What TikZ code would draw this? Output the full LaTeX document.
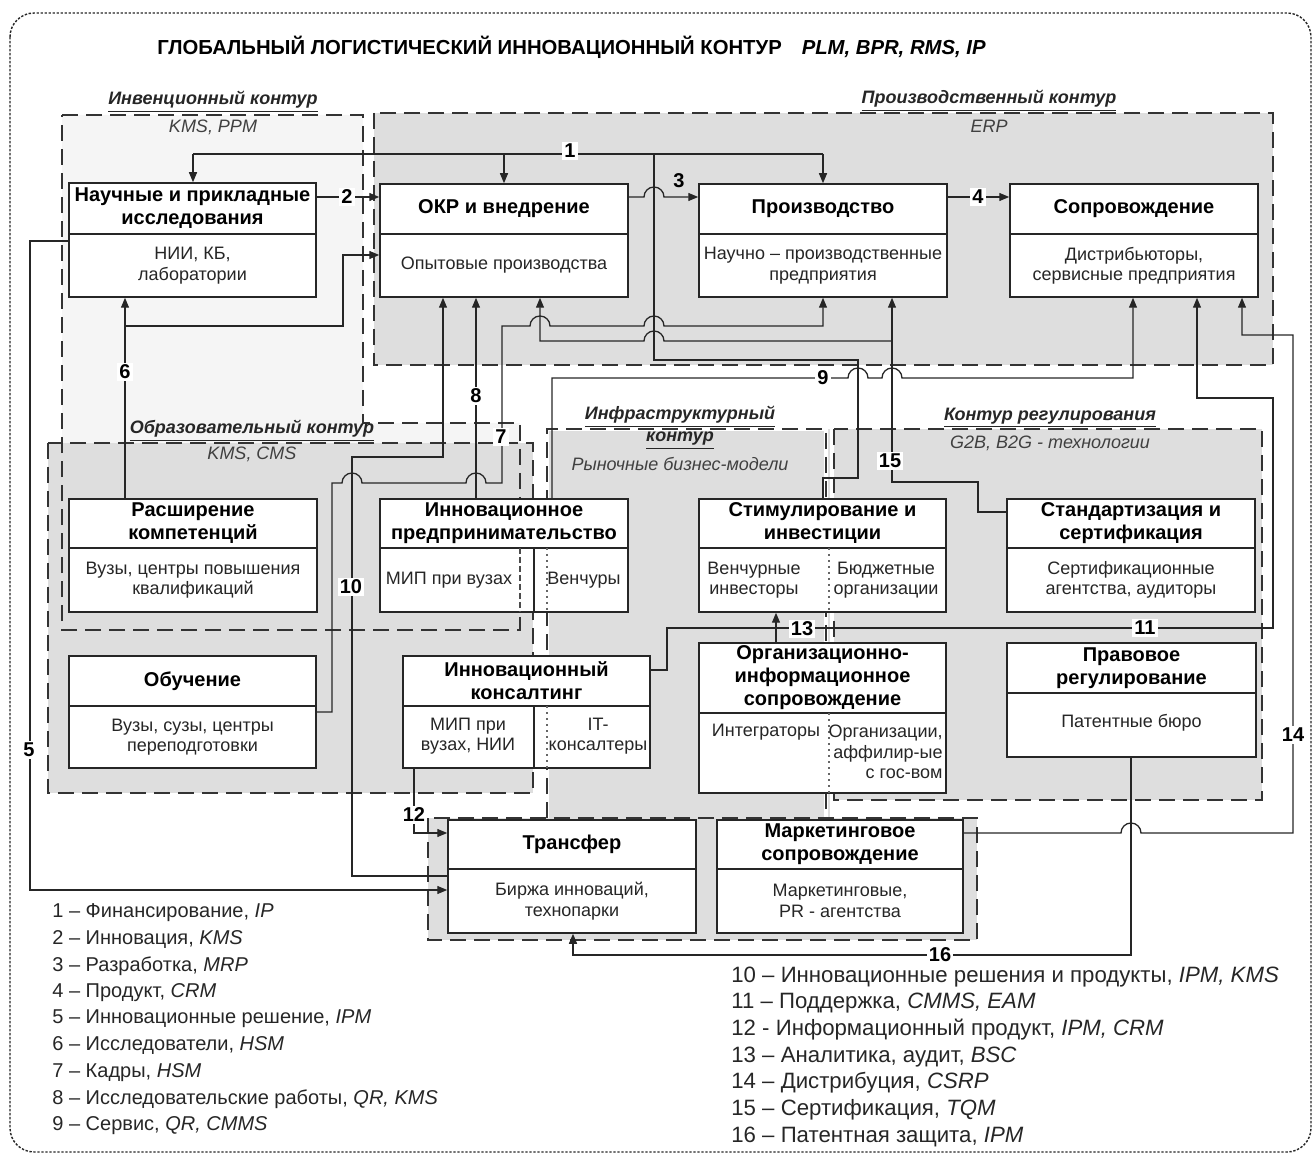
\documentclass[tikz,border=0pt]{standalone}
\usepackage{fontspec}
\setmainfont{Liberation Sans}
\usetikzlibrary{arrows.meta,fit}
\begin{document}
\begin{tikzpicture}[x=0.5pt,y=-0.5pt,
 cfill/.style={fill=black!13},
 ifill/.style={fill=black!4},
 cborder/.style={draw=black!80, line width=0.75pt, dash pattern=on 8pt off 4pt},
 infb/.style={cborder, preaction={draw=white, solid, line width=2.2pt}},
 outer/.style={draw=black!85, line width=0.7pt, dash pattern=on 1.2pt off 0.8pt},
 box/.style={draw=black!85, line width=0.75pt, fill=white, inner sep=0pt},
 divl/.style={draw=black!85, line width=0.75pt},
 ttl/.style={font=\bfseries\fontsize{10}{11.5}\selectfont, align=center, inner sep=0pt},
 bdy/.style={font=\fontsize{9}{10.2}\selectfont, align=center, text=black!85, inner sep=0pt},
 conn/.style={draw=black!85, line width=0.65pt},
 arr/.style={conn, -{Triangle[length=5pt,width=4pt]}},
 lbl/.style={font=\bfseries\fontsize{10}{12}\selectfont, fill=white, inner sep=1pt},
 ctitle/.style={font=\bfseries\itshape\fontsize{9}{11}\selectfont, align=center, inner sep=0pt, text=black!85},
 csub/.style={font=\itshape\fontsize{9}{11}\selectfont, text=black!75, inner sep=0pt},
 leg/.style={font=\fontsize{10}{12}\selectfont, anchor=west, inner sep=0pt, text=black!85},
 legr/.style={leg, font=\fontsize{11.1}{13}\selectfont},
 celldash/.style={draw=black!70, line width=0.6pt, dash pattern=on 3pt off 1.5pt},
 celldot/.style={draw=black!60, line width=0.6pt, dash pattern=on 1pt off 2pt}
]
\useasboundingbox (0,0) rectangle (1314,1155);

% outer border
\draw[outer, rounded corners=12pt] (10,13) rectangle (1311,1152);

% title
\node[anchor=west, inner sep=0pt, font=\bfseries\fontsize{10.15}{12}\selectfont] (title) at (157,47)
 {ГЛОБАЛЬНЫЙ ЛОГИСТИЧЕСКИЙ ИННОВАЦИОННЫЙ КОНТУР\hspace{10pt}\textit{PLM, BPR, RMS, IP}};

% contour fills
\fill[ifill] (62,115) -- (363,115) -- (363,423) -- (520,423) -- (520,630) -- (62,630) -- cycle;
\fill[cfill] (374,113) rectangle (1273,365);
\fill[cfill] (48,443) rectangle (533,793);
\fill[cfill] (547,429) rectangle (830,818);
\fill[cfill] (834,429) rectangle (1262,800);
\fill[cfill] (428,818) rectangle (977,940);

% contour borders
\draw[cborder] (62,115) -- (363,115) -- (363,423) -- (520,423) -- (520,630) -- (62,630) -- cycle;
\draw[cborder] (374,113) rectangle (1273,365);
\draw[cborder] (48,443) rectangle (533,793);
\draw[infb] (547,818) -- (547,429) -- (826,429) -- (826,818);
\draw[cborder] (834,429) rectangle (1262,800);
\draw[cborder] (428,818) rectangle (977,940);

% contour labels
\node[ctitle] (cinv) at (213,102) {\underline{Инвенционный контур}};
\node[csub] (cinvs) at (213,127) {KMS, PPM};
\node[ctitle] (cprod) at (989,101) {\underline{Производственный контур}};
\node[csub] (cprods) at (989,126) {ERP};
\node[ctitle] (cedu) at (252,431) {\underline{Образовательный контур}};
\node[csub] (cedus) at (252,454) {KMS, CMS};
\node[ctitle] (cinf) at (680,428) {\underline{Инфраструктурный}\\\underline{контур}};
\node[csub] (cinfs) at (680,464) {Рыночные бизнес-модели};
\node[ctitle] (creg) at (1050,418) {\underline{Контур регулирования}};
\node[csub] (cregs) at (1050,443) {G2B, B2G - технологии};

% ---------- boxes ----------
% Научные и прикладные исследования
\node[box, fit={(69,183)(316,297)}] (nir) {};
\draw[divl] (nir.west |- 0,234) -- (nir.east |- 0,234);
\node[ttl] (nirt) at (192.5,208.5) {Научные и прикладные\\исследования};
\node[bdy] (nirb) at (192.5,265.5) {НИИ, КБ,\\лаборатории};
% ОКР
\node[box, fit={(380,184)(628,297)}] (okr) {};
\draw[divl] (okr.west |- 0,234) -- (okr.east |- 0,234);
\node[ttl] (okrt) at (504,209) {ОКР и внедрение};
\node[bdy] (okrb) at (504,265.5) {Опытовые производства};
% Производство
\node[box, fit={(699,184)(947,297)}] (proizv) {};
\draw[divl] (proizv.west |- 0,234) -- (proizv.east |- 0,234);
\node[ttl] (proizvt) at (823,209) {Производство};
\node[bdy] (proizvb) at (823,265.5) {Научно – производственные\\предприятия};
% Сопровождение
\node[box, fit={(1010,184)(1258,297)}] (sopr) {};
\draw[divl] (sopr.west |- 0,234) -- (sopr.east |- 0,234);
\node[ttl] (soprt) at (1134,209) {Сопровождение};
\node[bdy] (soprb) at (1134,265.5) {Дистрибьюторы,\\сервисные предприятия};
% Расширение компетенций
\node[box, fit={(69,499)(317,612)}] (rasch) {};
\draw[divl] (rasch.west |- 0,548) -- (rasch.east |- 0,548);
\node[ttl] (rascht) at (193,523.5) {Расширение\\компетенций};
\node[bdy] (raschb) at (193,580) {Вузы, центры повышения\\квалификаций};
% Инновационное предпринимательство
\node[box, fit={(380,499)(628,612)}] (innpr) {};
\draw[divl] (innpr.west |- 0,548) -- (innpr.east |- 0,548);
\node[ttl] (innprt) at (504,523.5) {Инновационное\\предпринимательство};
\draw[celldash] (520,548) -- (520,612);
\draw[divl] (534,548) -- (534,612);
\draw[celldot] (547,548) -- (547,612);
\node[bdy] (innprb1) at (449,580) {МИП при вузах};
\node[bdy] (innprb2) at (584,580) {Венчуры};
% Обучение
\node[box, fit={(69,656)(316,768)}] (obuch) {};
\draw[divl] (obuch.west |- 0,706) -- (obuch.east |- 0,706);
\node[ttl] (obucht) at (192.5,681) {Обучение};
\node[bdy] (obuchb) at (192.5,737) {Вузы, сузы, центры\\переподготовки};
% Инновационный консалтинг
\node[box, fit={(403,656)(650,768)}] (innkons) {};
\draw[divl] (innkons.west |- 0,706) -- (innkons.east |- 0,706);
\node[ttl] (innkonst) at (526.5,681) {Инновационный\\консалтинг};
\draw[divl] (534,706) -- (534,768);
\draw[celldot] (547,706) -- (547,768);
\node[bdy] (innkonsb1) at (468,736) {МИП при\\вузах, НИИ};
\node[bdy] (innkonsb2) at (598,736) {IT-\\консалтеры};
% Стимулирование и инвестиции
\node[box, fit={(699,499)(946,612)}] (stim) {};
\draw[divl] (stim.west |- 0,548) -- (stim.east |- 0,548);
\node[ttl] (stimt) at (822.5,523.5) {Стимулирование и\\инвестиции};
\draw[celldot] (829,548) -- (829,612);
\node[bdy] (stimb1) at (754,580) {Венчурные\\инвесторы};
\node[bdy] (stimb2) at (886,580) {Бюджетные\\организации};
% Организационно-информационное сопровождение
\node[box, fit={(699,643)(946,793)}] (org) {};
\draw[divl] (org.west |- 0,713) -- (org.east |- 0,713);
\node[ttl] (orgt) at (822.5,678) {Организационно-\\информационное\\сопровождение};
\draw[celldot] (829,713) -- (829,793);
\node[bdy] (orgb1) at (766,732) {Интеграторы};
\node[bdy, align=right, anchor=east] (orgb2) at (943,752) {Организации,\\аффилир-ые\\с гос-вом};
% Стандартизация и сертификация
\node[box, fit={(1007,499)(1255,612)}] (stand) {};
\draw[divl] (stand.west |- 0,548) -- (stand.east |- 0,548);
\node[ttl] (standt) at (1131,523.5) {Стандартизация и\\сертификация};
\node[bdy] (standb) at (1131,580) {Сертификационные\\агентства, аудиторы};
% Правовое регулирование
\node[box, fit={(1007,643)(1256,757)}] (prav) {};
\draw[divl] (prav.west |- 0,693) -- (prav.east |- 0,693);
\node[ttl] (pravt) at (1131.5,668) {Правовое\\регулирование};
\node[bdy] (pravb) at (1131.5,723) {Патентные бюро};
% Трансфер
\node[box, fit={(448,820)(696,933)}] (transf) {};
\draw[divl] (transf.west |- 0,869) -- (transf.east |- 0,869);
\node[ttl] (transft) at (572,844.5) {Трансфер};
\node[bdy] (transfb) at (572,901) {Биржа инноваций,\\технопарки};
% Маркетинговое сопровождение
\node[box, fit={(717,820)(963,933)}] (mark) {};
\draw[divl] (mark.west |- 0,869) -- (mark.east |- 0,869);
\node[ttl] (markt) at (840,844.5) {Маркетинговое\\сопровождение};
\node[bdy] (markb) at (840,901) {Маркетинговые,\\PR - агентства};

% ---------- connectors ----------
% 1
\draw[conn] (stim.north -| 823,0) -- (823,478) -- (858,478) -- (858,360) -- (654,360) -- (654,154);
\draw[conn] (193,154) -- (823,154);
\draw[arr] (193,154) -- (nir.north -| 193,0);
\draw[arr] (504,154) -- (okr.north -| 504,0);
\draw[arr] (823,154) -- (proizv.north -| 823,0);
% 2
\draw[arr] (nir.east |- 0,197) -- (okr.west |- 0,197);
% 3
\draw[arr] (okr.east |- 0,197) -- (644,197) arc[start angle=180,end angle=0,radius=5pt] -- (proizv.west |- 0,197);
% 4
\draw[arr] (proizv.east |- 0,197) -- (sopr.west |- 0,197);
% 5
\draw[arr] (nir.west |- 0,241) -- (30,241) -- (30,890) -- (transf.west |- 0,890);
% 6
\draw[arr] (rasch.north -| 125,0) -- (nir.south -| 125,0);
\draw[arr] (125,326) -- (343,326) -- (343,255) -- (okr.west |- 0,255);
% 7
\draw[arr] (obuch.east |- 0,712) -- (332,712) -- (332,483) -- (342,483) arc[start angle=180,end angle=0,radius=5pt]
  -- (466,483) arc[start angle=180,end angle=0,radius=5pt] -- (502,483) -- (502,326)
  -- (530,326) arc[start angle=180,end angle=0,radius=5pt]
  -- (644,326) arc[start angle=180,end angle=0,radius=5pt] -- (823,326) -- (proizv.south -| 823,0);
% 8
\draw[arr] (innpr.north -| 476,0) -- (okr.south -| 476,0);
% 9
\draw[arr] (innpr.north -| 552,0) -- (552,378) -- (848,378) arc[start angle=180,end angle=0,radius=5pt]
  -- (882,378) arc[start angle=180,end angle=0,radius=5pt] -- (1133,378) -- (sopr.south -| 1133,0);
% 10
\draw[arr] (transf.west |- 0,876) -- (352,876) -- (352,457) -- (443,457) -- (okr.south -| 443,0);
% 11
\draw[arr] (innkons.east |- 0,670) -- (667,670) -- (667,628) -- (1273,628) -- (1273,398) -- (1197,398) -- (sopr.south -| 1197,0);
% 12
\draw[arr] (innkons.south -| 414,0) -- (414,833) -- (transf.west |- 0,833);
% 13
\draw[arr] (org.north -| 776,0) -- (stim.south -| 776,0);
% 14
\draw[arr] (mark.east |- 0,833) -- (1121,833) arc[start angle=180,end angle=0,radius=5pt] -- (1293,833) -- (1293,335) -- (1242,335) -- (sopr.south -| 1242,0);
% 15
\draw[arr] (stand.west |- 0,512) -- (978,512) -- (978,482) -- (892,482) -- (proizv.south -| 892,0);
\draw[arr] (892,341) -- (664,341) arc[start angle=0,end angle=180,radius=5pt] -- (540,341) -- (okr.south -| 540,0);
% 16
\draw[arr] (prav.south -| 1131,0) -- (1131,955) -- (573,955) -- (transf.south -| 573,0);

% connector labels
\node[lbl] (l1) at (570,151) {1};
\node[lbl] (l2) at (347,197) {2};
\node[lbl, fill=none] (l3) at (679,181) {3};
\node[lbl] (l4) at (978,197) {4};
\node[lbl] (l5) at (29,750) {5};
\node[lbl] (l6) at (125,372) {6};
\node[lbl] (l7) at (501,437) {7};
\node[lbl] (l8) at (476,396) {8};
\node[lbl] (l9) at (823,378) {9};
\node[lbl] (l10) at (351,587) {10};
\node[lbl] (l11) at (1145,628) {11};
\node[lbl] (l12) at (414,815) {12};
\node[lbl] (l13) at (802,629) {13};
\node[lbl] (l14) at (1293,735) {14};
\node[lbl] (l15) at (890,461) {15};
\node[lbl] (l16) at (940,955) {16};

% legend
\node[leg] (g1) at (52,913) {1 – Финансирование, \textit{IP}};
\node[leg] (g2) at (52,940) {2 – Инновация, \textit{KMS}};
\node[leg] (g3) at (52,966) {3 – Разработка, \textit{MRP}};
\node[leg] (g4) at (52,993) {4 – Продукт, \textit{CRM}};
\node[leg] (g5) at (52,1019) {5 – Инновационные решение, \textit{IPM}};
\node[leg] (g6) at (52,1046) {6 – Исследователи, \textit{HSM}};
\node[leg] (g7) at (52,1073) {7 – Кадры, \textit{HSM}};
\node[leg] (g8) at (52,1099) {8 – Исследовательские работы, \textit{QR, KMS}};
\node[leg] (g9) at (52,1126) {9 – Сервис, \textit{QR, CMMS}};
\node[legr] (g10) at (731,977) {10 – Инновационные решения и продукты, \textit{IPM, KMS}};
\node[legr] (g11) at (731,1003) {11 – Поддержка, \textit{CMMS, EAM}};
\node[legr] (g12) at (731,1030) {12 - Информационный продукт, \textit{IPM, CRM}};
\node[legr] (g13) at (731,1057) {13 – Аналитика, аудит, \textit{BSC}};
\node[legr] (g14) at (731,1083) {14 – Дистрибуция, \textit{CSRP}};
\node[legr] (g15) at (731,1110) {15 – Сертификация, \textit{TQM}};
\node[legr] (g16) at (731,1137) {16 – Патентная защита, \textit{IPM}};
\end{tikzpicture}
\end{document}
